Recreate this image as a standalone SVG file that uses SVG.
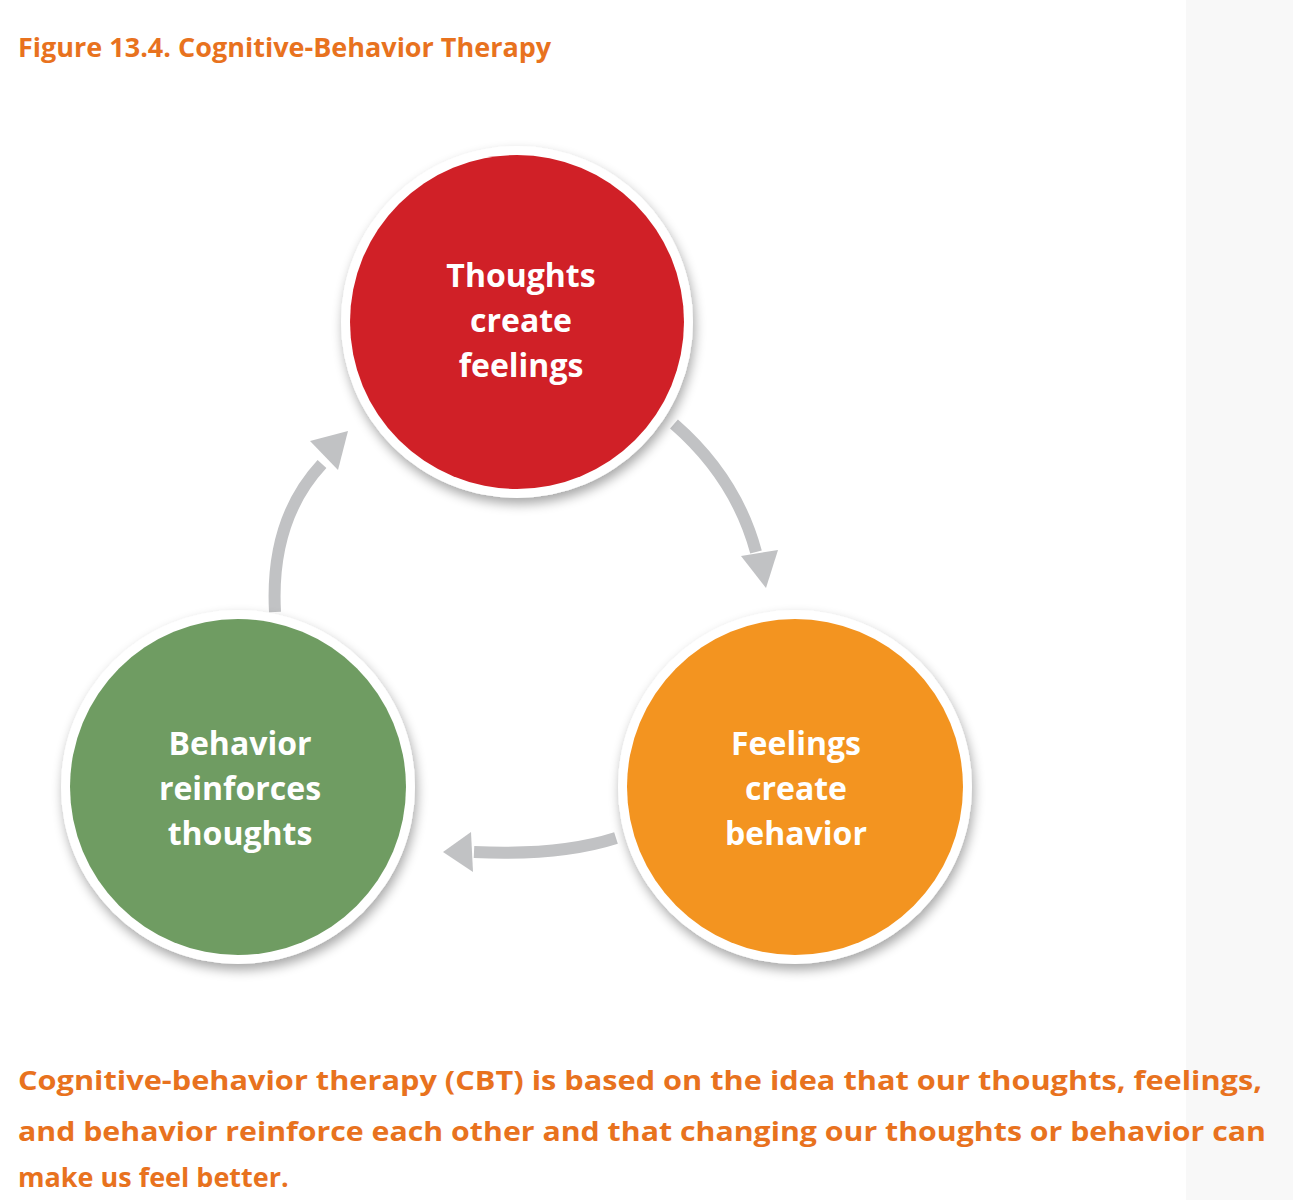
<svg xmlns="http://www.w3.org/2000/svg" width="1293" height="1200" viewBox="0 0 1293 1200">
<defs>
<style>
.t{font-family:"Open Sans","Liberation Sans",sans-serif;font-weight:bold;fill:#e8721e}
.n{font-family:"Open Sans","Liberation Sans",sans-serif;font-weight:bold;fill:#fff;font-size:32px;text-anchor:middle}
.ring{fill:#fff;filter:url(#sh)}
.arc{fill:none;stroke:#c1c2c4;stroke-width:12}
.hd{fill:#c1c2c4}
</style>
<filter id="sh" x="-20%" y="-20%" width="140%" height="140%"><feGaussianBlur in="SourceAlpha" stdDeviation="6"/><feOffset dx="2" dy="6"/><feComponentTransfer><feFuncA type="linear" slope="0.35"/></feComponentTransfer><feMerge><feMergeNode/><feMergeNode in="SourceGraphic"/></feMerge></filter>
</defs>
<rect width="1293" height="1200" fill="#fff"/>
<rect x="1186" width="107" height="1200" fill="#f8f8f8"/>
<text class="t" x="18" y="57" font-size="27">Figure 13.4. Cognitive-Behavior Therapy</text>
<g id="connectors">
<path class="arc" d="M674,424 Q736,478 756,552"/>
<polygon class="hd" points="766,588 741,556 778,550"/>
<path class="arc" d="M616,838 Q560,856 474,852"/>
<polygon class="hd" points="443,852 471,832 473,872"/>
<path class="arc" d="M275,612 Q270,520 322,464"/>
<polygon class="hd" points="348,431 310,441 338,470"/>
</g>
<g id="thoughts">
<circle class="ring" cx="517" cy="322" r="176"/>
<circle cx="517" cy="322" r="167" fill="#d02027"/>
<text class="n" x="521" y="287">Thoughts</text>
<text class="n" x="521" y="332">create</text>
<text class="n" x="521" y="377">feelings</text>
</g>
<g id="feelings">
<circle class="ring" cx="795" cy="787" r="177"/>
<circle cx="795" cy="787" r="168" fill="#f39420"/>
<text class="n" x="796" y="755">Feelings</text>
<text class="n" x="796" y="800">create</text>
<text class="n" x="796" y="845">behavior</text>
</g>
<g id="behavior">
<circle class="ring" cx="238" cy="787" r="177"/>
<circle cx="238" cy="787" r="168" fill="#6f9c62"/>
<text class="n" x="240" y="755">Behavior</text>
<text class="n" x="240" y="800">reinforces</text>
<text class="n" x="240" y="845">thoughts</text>
</g>
<text class="t" x="18" y="1090" font-size="27" textLength="1244" lengthAdjust="spacingAndGlyphs">Cognitive-behavior therapy (CBT) is based on the idea that our thoughts, feelings,</text>
<text class="t" x="18" y="1141" font-size="27" textLength="1248" lengthAdjust="spacingAndGlyphs">and behavior reinforce each other and that changing our thoughts or behavior can</text>
<text class="t" x="18" y="1187" font-size="27">make us feel better.</text>
</svg>
